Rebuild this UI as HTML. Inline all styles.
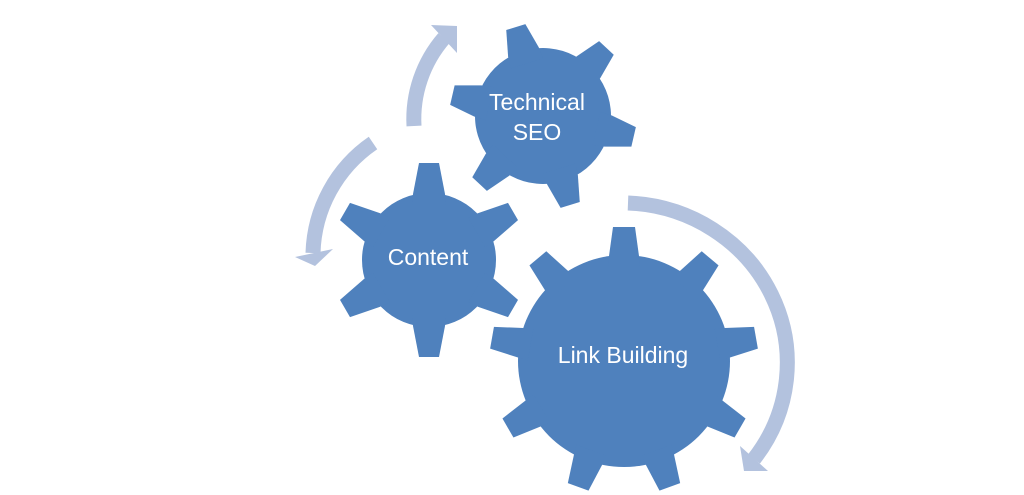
<!DOCTYPE html>
<html><head><meta charset="utf-8"><style>
html,body{margin:0;padding:0;background:#fff;}
svg{display:block}
text{font-family:"Liberation Sans",sans-serif;fill:#fff;font-size:23px;text-anchor:middle}
</style></head><body>
<svg width="1024" height="495" viewBox="0 0 1024 495" xmlns="http://www.w3.org/2000/svg">
<defs>
<polygon id="ts" points="-17,-55 17,-55 16,-66 10,-97 -10,-97 -16,-66"/>
<polygon id="tt" points="-17,-55 17,-55 16,-67 10,-93 -10,-93 -16,-67"/>
<polygon id="tl" points="-16,-95 16,-95 15,-105 11,-134 -11,-134 -15,-105"/>
</defs>
<g fill="#B3C2DE">
<path d="M414 126 A124 124 0 0 1 444 38" fill="none" stroke="#B3C2DE" stroke-width="15"/>
<polygon points="431,25 457,53 457,26"/>
<path d="M373 143 A138 138 0 0 0 313 253" fill="none" stroke="#B3C2DE" stroke-width="15"/>
<polygon points="295,257 333,249 315,266"/>
<path d="M628 203 A166 160 0 0 1 754 459" fill="none" stroke="#B3C2DE" stroke-width="15"/>
<polygon points="768,471 740,446 744,471"/>
</g>
<g fill="#4F81BD">
<g transform="translate(543,116) rotate(-17)">
<circle r="68"/>
<use href="#tt"/><use href="#tt" transform="rotate(60)"/><use href="#tt" transform="rotate(120)"/>
<use href="#tt" transform="rotate(180)"/><use href="#tt" transform="rotate(240)"/><use href="#tt" transform="rotate(300)"/>
</g>
<g transform="translate(429,260)">
<circle r="67"/>
<use href="#ts"/><use href="#ts" transform="rotate(60)"/><use href="#ts" transform="rotate(120)"/>
<use href="#ts" transform="rotate(180)"/><use href="#ts" transform="rotate(240)"/><use href="#ts" transform="rotate(300)"/>
</g>
<g transform="translate(624,361)">
<circle r="106"/>
<use href="#tl"/><use href="#tl" transform="rotate(40)"/><use href="#tl" transform="rotate(80)"/>
<use href="#tl" transform="rotate(120)"/><use href="#tl" transform="rotate(160)"/><use href="#tl" transform="rotate(200)"/>
<use href="#tl" transform="rotate(240)"/><use href="#tl" transform="rotate(280)"/><use href="#tl" transform="rotate(320)"/>
</g>
</g>
<text x="537" y="110">Technical</text>
<text x="537" y="140">SEO</text>
<text x="428" y="265">Content</text>
<text x="623" y="363">Link Building</text>
</svg>
</body></html>
